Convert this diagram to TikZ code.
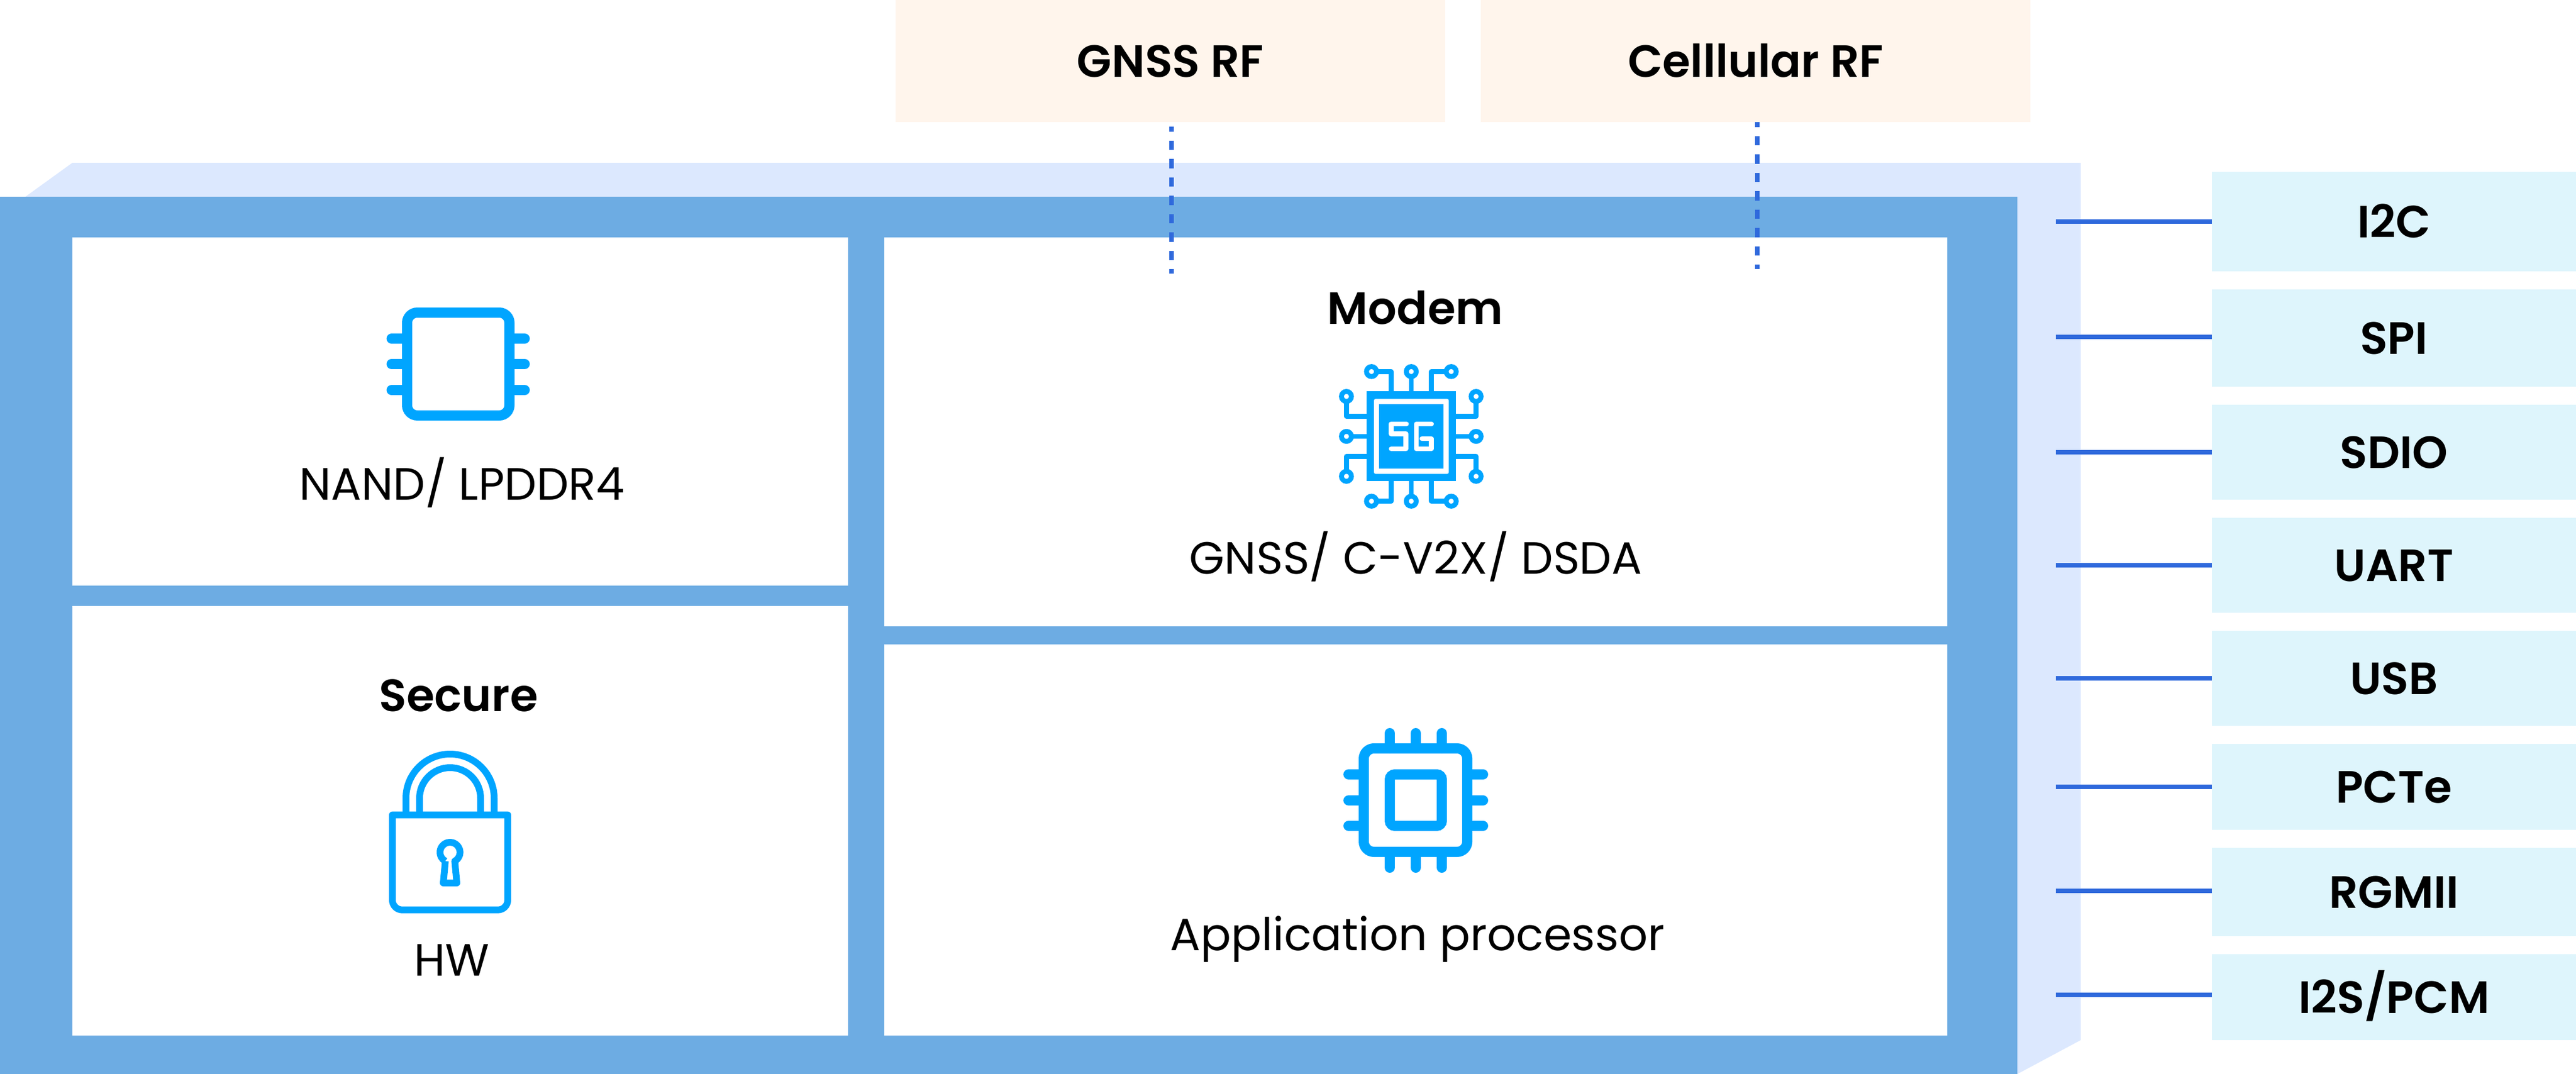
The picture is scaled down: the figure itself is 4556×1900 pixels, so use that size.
\documentclass[tikz,border=0pt]{standalone}
\usepackage{fontspec}
\setmainfont{Poppins}
\newfontfamily\semib{Poppins SemiBold}
\definecolor{backc}{RGB}{220,232,254}
\definecolor{frontc}{RGB}{109,172,227}
\definecolor{linec}{RGB}{47,105,220}
\definecolor{cyanc}{RGB}{222,245,252}
\definecolor{orangec}{RGB}{255,245,236}
\definecolor{iconc}{RGB}{0,165,255}
\tikzset{
  boxbase/.style={inner sep=0pt,outer sep=0pt,minimum width=#1},
  rfbox/.style={boxbase=972pt,fill=orangec,minimum height=216pt,font=\fontsize{80}{96}\selectfont\semib,text height=56pt,text depth=0pt},
  ifbox/.style={boxbase=644pt,fill=cyanc,minimum height=#1,font=\fontsize{80}{96}\selectfont\semib,text height=56pt,text depth=0pt},
  panel/.style={inner sep=0pt,outer sep=0pt,fill=white},
  headtxt/.style={inner sep=0pt,outer sep=0pt,anchor=base,font=\fontsize{80}{96}\selectfont\semib},
  bodytxt/.style={inner sep=0pt,outer sep=0pt,anchor=base,font=\fontsize{80}{96}\selectfont},
  solidlink/.style={draw=linec,line width=8pt},
  dashlink/.style={draw=linec,line width=8pt,dash pattern=on 16.5pt off 16pt,dash phase=8pt},
  iconline/.style={draw=iconc,line width=18pt,line cap=round},
  iconbody/.style={draw=iconc,line width=18pt,rounded corners=18pt},
  iconcore/.style={draw=iconc,line width=18pt,rounded corners=9pt},
  lockline/.style={draw=iconc,line width=12pt},
  trace/.style={draw=iconc,line width=8.7pt,line join=round},
  pad/.style={draw=iconc,fill=white,line width=8.7pt},
  fivegline/.style={draw=white,line width=8.7pt,line cap=round,line join=round}
}
\begin{document}
\begin{tikzpicture}[x=1pt,y=-1pt]
\useasboundingbox (0,0) rectangle (4556,1900);
% case
\fill[backc] (45,348) -- (128,288) -- (3680,288) -- (3680,1840) -- (3568,1900) -- (45,1900) -- cycle;
\node[panel,fill=frontc,minimum width=3568pt,minimum height=1552pt] (front) at (1784,1124) {};
\node[panel,minimum width=1372pt,minimum height=616pt] (nand) at (814,728) {};
\node[panel,minimum width=1372pt,minimum height=760pt] (secure) at (814,1452) {};
\node[panel,minimum width=1880pt,minimum height=688pt] (modem) at (2504,764) {};
\node[panel,minimum width=1880pt,minimum height=692pt] (ap) at (2504,1486) {};
% RF boxes
\node[rfbox] (gnss) at (2070,108) {GNSS RF};
\node[rfbox] (cell) at (3105,108) {Celllular RF};
% interface boxes
\node[ifbox=176pt] (i2c) at (4234,392) {I2C};
\node[ifbox=172pt] (spi) at (4234,598) {SPI};
\node[ifbox=168pt] (sdio) at (4234,800) {SDIO};
\node[ifbox=168pt] (uart) at (4234,1000) {UART};
\node[ifbox=168pt] (usb) at (4234,1200) {USB};
\node[ifbox=152pt] (pcte) at (4234,1392) {PCTe};
\node[ifbox=156pt] (rgmii) at (4234,1578) {RGMII};
\node[ifbox=152pt] (i2s) at (4234,1764) {I2S/PCM};
% connectors
\foreach \nm/\yy in {i2c/392,spi/596,sdio/800,uart/1000,usb/1200,pcte/1392,rgmii/1576,i2s/1760}{
  \coordinate (l\nm) at (3636,\yy);
  \draw[solidlink] (l\nm) -- (l\nm -| \nm.west);
}
\coordinate (gnssA) at (2072,224);
\coordinate (gnssB) at (2072,484);
\coordinate (cellA) at (3108,216);
\coordinate (cellB) at (3108,476);
\draw[dashlink] (gnssA) -- (gnssB);
\draw[dashlink] (cellA) -- (cellB);
% texts
\node[bodytxt] (tnand) at (817,884) {NAND/ LPDDR4};
\node[headtxt] (tmodem) at (2503,573) {Modem};
\node[bodytxt] (tgnss) at (2504,1015) {GNSS/ C-V2X/ DSDA};
\node[headtxt] (tsecure) at (811,1258) {Secure};
\node[bodytxt] (thw) at (799,1726) {HW};
\node[bodytxt] (tap) at (2507,1681) {Application processor};
% memory chip icon
\draw[iconbody] (720,553) rectangle (901,735);
\foreach \yy in {599,644,690}{
  \draw[iconline] (692.6,\yy) -- (720,\yy);
  \draw[iconline] (901,\yy) -- (928,\yy);
}
% application processor icon
\draw[iconbody] (2412,1324) rectangle (2595,1507);
\draw[iconcore] (2458,1370) rectangle (2550,1461);
\foreach \vv in {2458,2504,2550}{
  \draw[iconline] (\vv,1297) -- (\vv,1324);
  \draw[iconline] (\vv,1507) -- (\vv,1535);
}
\foreach \vv in {1370,1416,1461}{
  \draw[iconline] (2385,\vv) -- (2412,\vv);
  \draw[iconline] (2595,\vv) -- (2623,\vv);
}
% lock icon
\begin{scope}[shift={(600,1280)},x=0.33333pt,y=-0.33333pt]
  \draw[lockline,line join=round] (282,485) -- (894,485) -- (894,937) arc[start angle=0,end angle=-90,radius=17.33pt] -- (334,989) arc[start angle=270,end angle=180,radius=17.33pt] -- cycle;
  \draw[lockline] (354,473) -- (354,396) arc[start angle=180,end angle=0,radius=78pt] -- (822,473);
  \draw[lockline] (426,473) -- (426,396) arc[start angle=180,end angle=0,radius=54pt] -- (750,473);
  \draw[lockline,line join=round] (563,730) -- (552,846) -- (624,846) -- (613,730) arc[start angle=-61.5,end angle=241.5,radius=17.7pt];
\end{scope}
% modem icon
\begin{scope}[shift={(2250,480)},x=0.33333pt,y=-0.33333pt]
  \draw[trace]
    (527,532) -- (632,532) -- (632,637)
    (738,532) -- (738,637)
    (950,532) -- (845,532) -- (845,637)
    (394,664) -- (394,769) -- (500,769)
    (394,876) -- (500,876)
    (394,1088) -- (394,982) -- (500,982)
    (1082,664) -- (1082,769) -- (976,769)
    (1082,876) -- (976,876)
    (1082,1088) -- (1082,982) -- (976,982)
    (527,1220) -- (632,1220) -- (632,1114)
    (738,1220) -- (738,1114)
    (950,1220) -- (845,1220) -- (845,1114);
  \foreach \pp in {(527,532),(738,532),(950,532),(394,664),(394,876),(394,1088),(1082,664),(1082,876),(1082,1088),(527,1220),(738,1220),(950,1220)}{
    \draw[pad] \pp circle[radius=8.83pt];
  }
  \fill[iconc] (500,637) rectangle (976,1114);
  \fill[white,rounded corners=3pt] (540,677) rectangle (937,1075);
  \fill[iconc] (566,704) rectangle (910,1048);
  \draw[fivegline] (712,810) -- (632,810) -- (632,862) -- (710,862) -- (710,942) -- (632,942);
  \draw[fivegline] (845,810) -- (765,810) -- (765,942) -- (845,942) -- (845,888) -- (795,888);
\end{scope}
\end{tikzpicture}
\end{document}
